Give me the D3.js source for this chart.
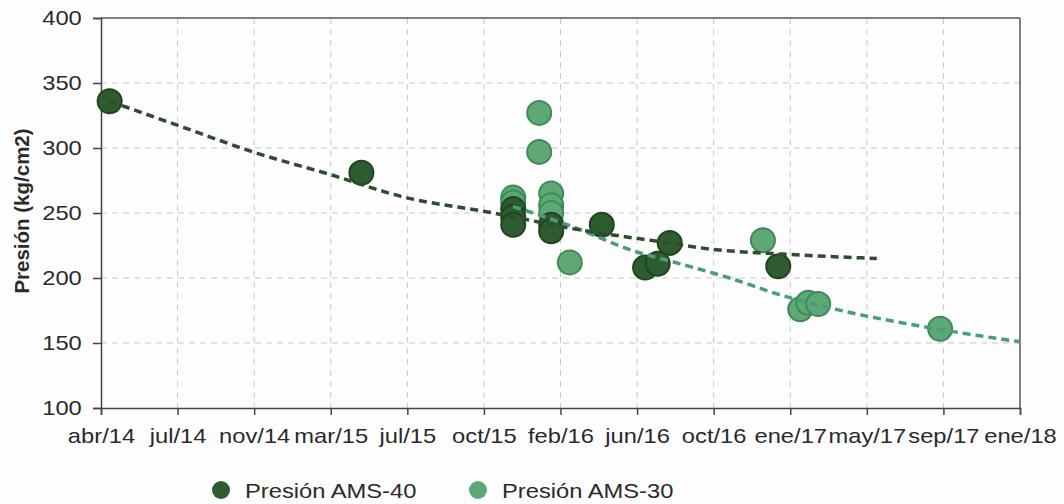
<!DOCTYPE html>
<html><head><meta charset="utf-8">
<script src="https://cdn.jsdelivr.net/npm/d3@7"></script>
<style>
html,body{margin:0;padding:0;background:#fdfdfd;}
svg{display:block;font-family:"Liberation Sans",Arial,sans-serif;}
</style></head>
<body>
<svg id="chart" width="1064" height="504"></svg>
<script>
// ---- data ----
const ams40Dates = ["2014-04-14","2015-04-27","2015-12-11","2015-12-11","2015-12-11","2016-02-06","2016-02-06","2016-04-22","2016-06-26","2016-07-15","2016-08-02","2017-01-12"];
const ams40Values = [336,281,253,247,241,241,236,241,208,211,227,209];
const ams30Dates = ["2015-12-11","2015-12-11","2016-01-19","2016-01-19","2016-02-06","2016-02-06","2016-02-06","2016-03-05","2016-12-20","2017-02-14","2017-02-26","2017-03-13","2017-09-12"];
const ams30Values = [262,258,327,297,265,256,250,212,229,176,181,180,161];
// trendline values
const trend40Dates = ["2014-04-14","2014-08-02","2014-11-15","2015-03-15","2015-06-24","2015-11-11","2016-03-20","2016-07-18","2016-10-06","2017-01-15","2017-06-09"];
const trend40Values = [336,316,297,279,263,250,237,228,222,218.5,215];
const trend30Dates = ["2015-12-11","2016-03-01","2016-06-14","2016-08-17","2016-10-31","2017-01-15","2017-04-25","2017-08-02","2017-11-11","2018-01-10"];
const trend30Values = [255,241,220,211,200,187,174,164,155.5,151];
const xTickDates = ["2014-04-01","2014-07-25","2014-11-17","2015-03-12","2015-07-05","2015-10-28","2016-02-20","2016-06-14","2016-10-07","2017-01-30","2017-05-25","2017-09-17","2018-01-10"];
const xTickLabels = ["abr/14","jul/14","nov/14","mar/15","jul/15","oct/15","feb/16","jun/16","oct/16","ene/17","may/17","sep/17","ene/18"];
const yTicks = [100,150,200,250,300,350,400];
const seriesNames = ["Presión AMS-40","Presión AMS-30"];
const yTitle = "Presión (kg/cm2)";

// ---- setup ----
const parse = d3.utcParse("%Y-%m-%d");
const svg = d3.select("#chart");
const pL = 101, pR = 1020, pT = 18, pB = 408;
const x = d3.scaleUtc().domain([parse(xTickDates[0]), parse(xTickDates[xTickDates.length-1])]).range([pL, pR]);
const y = d3.scaleLinear().domain([100, 400]).range([pB, pT]);
const SX = 1.13;
const colors = {dark:"#2e5c31", darkStroke:"#22441f", light:"#5ea875", lightStroke:"#3f8a58", darkTrend:"#2f4d2e", lightTrend:"#4a9c7e"};

// grid
const grid = svg.append("g");
grid.selectAll("line.h").data(yTicks.slice(1, -1)).join("line")
  .attr("x1", pL).attr("x2", pR).attr("y1", d => y(d)).attr("y2", d => y(d))
  .attr("stroke", "#c9c9c9").attr("stroke-width", 1).attr("stroke-dasharray", "6,5");
grid.selectAll("line.v").data(xTickDates.slice(1, -1)).join("line")
  .attr("x1", d => x(parse(d))).attr("x2", d => x(parse(d))).attr("y1", pT).attr("y2", pB)
  .attr("stroke", "#c9c9c9").attr("stroke-width", 1).attr("stroke-dasharray", "6,5");

// frame top/right
svg.append("line").attr("x1", pL).attr("x2", pR).attr("y1", pT).attr("y2", pT).attr("stroke", "#555").attr("stroke-width", 1.5);
svg.append("line").attr("x1", pR).attr("x2", pR).attr("y1", pT).attr("y2", pB).attr("stroke", "#555").attr("stroke-width", 1.5);

// axes
const xAxis = d3.axisBottom(x).tickValues(xTickDates.map(parse)).tickSize(7).tickPadding(13)
  .tickFormat((d, i) => xTickLabels[i]);
const gx = svg.append("g").attr("transform", `translate(0,${pB})`).call(xAxis);
gx.select(".domain").attr("stroke", "#444").attr("stroke-width", 1.5);
gx.selectAll(".tick line").attr("stroke", "#444").attr("stroke-width", 1.5);
gx.selectAll(".tick text").attr("font-size", 21).attr("fill", "#2a2a2a")
  .attr("font-family", "'Liberation Sans',Arial,sans-serif")
  .attr("transform", `scale(${SX},1)`);

const yAxis = d3.axisLeft(y).tickValues(yTicks).tickSize(8).tickPadding(9);
const gy = svg.append("g").attr("transform", `translate(${pL},0)`).call(yAxis);
gy.select(".domain").attr("stroke", "#444").attr("stroke-width", 1.5);
gy.selectAll(".tick line").attr("stroke", "#444").attr("stroke-width", 1.5);
gy.selectAll(".tick text").attr("font-size", 21).attr("fill", "#2a2a2a")
  .attr("font-family", "'Liberation Sans',Arial,sans-serif")
  .attr("transform", `scale(${SX},1)`);

// y title
svg.append("text").attr("transform", `translate(29,211) rotate(-90)`)
  .attr("text-anchor", "middle").attr("font-size", 20.5).attr("font-weight", "bold")
  .attr("fill", "#2a2a2a").text(yTitle);

// points
const pts30 = ams30Dates.map((d, i) => ({d: parse(d), v: ams30Values[i]}));
const pts40 = ams40Dates.map((d, i) => ({d: parse(d), v: ams40Values[i]}));
svg.append("g").selectAll("circle").data(pts30).join("circle")
  .attr("cx", p => x(p.d)).attr("cy", p => y(p.v)).attr("r", 12)
  .attr("fill", colors.light).attr("stroke", colors.lightStroke).attr("stroke-width", 2);
svg.append("g").selectAll("circle").data(pts40).join("circle")
  .attr("cx", p => x(p.d)).attr("cy", p => y(p.v)).attr("r", 12)
  .attr("fill", colors.dark).attr("stroke", colors.darkStroke).attr("stroke-width", 2);

// trendlines
const trendLine = d3.line().x(p => x(p.d)).y(p => y(p.v)).curve(d3.curveMonotoneX);
const t30 = trend30Dates.map((d, i) => ({d: parse(d), v: trend30Values[i]}));
const t40 = trend40Dates.map((d, i) => ({d: parse(d), v: trend40Values[i]}));
svg.append("path").attr("d", trendLine(t30))
  .attr("fill", "none").attr("stroke", colors.lightTrend).attr("stroke-width", 3.5).attr("stroke-dasharray", "8,5");
svg.append("path").attr("d", trendLine(t40))
  .attr("fill", "none").attr("stroke", colors.darkTrend).attr("stroke-width", 3.5).attr("stroke-dasharray", "8,5");

// legend
const legend = svg.append("g");
const legItems = [{name: seriesNames[0], c: colors.dark, cx: 221}, {name: seriesNames[1], c: colors.light, cx: 478}];
legItems.forEach(it => {
  legend.append("circle").attr("cx", it.cx).attr("cy", 490).attr("r", 9).attr("fill", it.c);
  legend.append("text").attr("transform", `translate(${it.cx + 24},498) scale(${SX},1)`)
    .attr("font-size", 21).attr("fill", "#2a2a2a").text(it.name);
});
</script>
</body></html>
